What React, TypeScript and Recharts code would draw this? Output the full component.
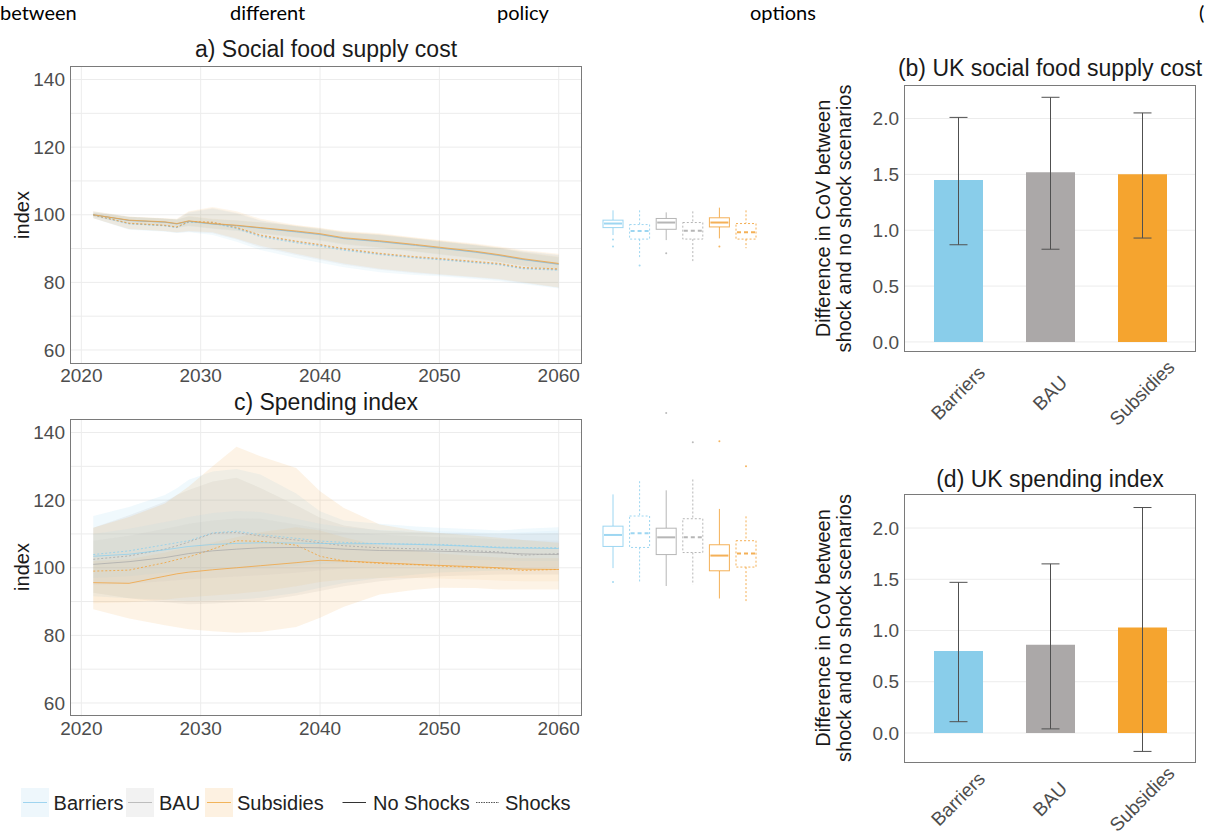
import React from 'react'
import {
  ComposedChart,
  BarChart,
  Area,
  Line,
  Bar,
  Cell,
  ErrorBar,
  XAxis,
  YAxis,
  CartesianGrid,
} from 'recharts'

// sampled years for the two time-series panels
const years = [2021, 2024, 2027, 2028, 2029, 2031, 2033, 2035, 2038, 2040, 2042, 2045, 2048, 2050, 2053, 2055, 2057, 2060]
const yearTicks = [2020, 2030, 2040, 2050, 2060]
const indexTicks = [60, 80, 100, 120, 140]
const indexGrid = [60, 70, 80, 90, 100, 110, 120, 130, 140]

// a) social food supply cost - median lines
const supplyBarriers = [100.0, 98.3, 97.8, 97.3, 98.0, 97.2, 96.7, 96.0, 94.9, 94.1, 92.9, 92.0, 90.9, 90.1, 88.9, 87.9, 86.7, 85.3]
const supplyBau = [100.0, 98.3, 97.8, 97.3, 98.1, 97.3, 96.8, 96.1, 95.0, 94.2, 93.0, 92.1, 91.0, 90.2, 89.0, 88.0, 86.8, 85.4]
const supplySubsidies = [100.0, 98.4, 97.9, 97.4, 98.2, 97.4, 96.9, 96.2, 95.2, 94.4, 93.2, 92.3, 91.2, 90.4, 89.2, 88.2, 87.0, 85.6]
const supplyBarriersShock = [99.9, 97.3, 96.7, 96.2, 97.8, 97.5, 95.9, 93.5, 91.7, 90.7, 89.5, 88.2, 87.2, 86.7, 85.8, 85.2, 84.0, 83.6]
const supplyBauShock = [99.9, 97.4, 96.8, 96.3, 97.9, 97.7, 96.1, 93.8, 92.0, 91.0, 89.8, 88.4, 87.4, 86.9, 86.0, 85.4, 84.2, 83.8]
const supplySubsidiesShock = [100.0, 97.5, 96.9, 96.4, 98.0, 97.8, 96.3, 94.0, 92.2, 91.2, 90.0, 88.6, 87.6, 87.1, 86.2, 85.6, 84.4, 84.0]
// a) ribbons
const supplyBarriersLow = [99.4, 97.2, 96.6, 96.1, 96.6, 95.8, 95.2, 94.4, 93.2, 92.3, 91.1, 90.2, 89.0, 88.2, 87.0, 86.0, 84.8, 83.4]
const supplyBarriersHigh = [100.6, 99.3, 98.8, 98.5, 99.4, 98.6, 98.2, 97.6, 96.6, 95.9, 94.7, 93.9, 92.9, 92.1, 90.9, 90.0, 88.7, 87.3]
const supplyBauLow = [99.4, 97.3, 96.7, 96.2, 96.7, 95.9, 95.3, 94.5, 93.3, 92.4, 91.2, 90.3, 89.1, 88.3, 87.1, 86.1, 84.9, 83.5]
const supplyBauHigh = [100.6, 99.3, 98.9, 98.5, 99.5, 98.7, 98.3, 97.7, 96.7, 96.0, 94.8, 94.0, 93.0, 92.2, 91.0, 90.1, 88.8, 87.4]
const supplySubsidiesLow = [99.4, 97.4, 96.9, 96.2, 96.8, 96.0, 95.4, 94.6, 93.5, 92.6, 91.4, 90.4, 89.2, 88.4, 87.2, 86.1, 85.0, 83.6]
const supplySubsidiesHigh = [100.6, 99.4, 98.9, 98.6, 99.6, 98.8, 98.4, 97.8, 96.9, 96.2, 95.0, 94.2, 93.2, 92.4, 91.2, 90.3, 89.0, 87.6]
const supplyBarriersShockLow = [99.0, 95.6, 95.0, 94.6, 94.8, 94.0, 92.0, 89.6, 87.2, 85.8, 84.5, 83.0, 82.2, 81.8, 81.0, 80.4, 79.5, 78.2]
const supplyBarriersShockHigh = [100.9, 99.3, 98.8, 98.6, 100.6, 101.8, 100.4, 98.2, 96.5, 95.5, 94.7, 94.0, 92.8, 92.0, 91.0, 90.1, 89.1, 88.0]
const supplyBauShockLow = [99.0, 95.7, 95.1, 94.7, 95.0, 94.5, 92.7, 90.4, 88.1, 86.6, 85.2, 83.7, 82.7, 82.2, 81.4, 80.8, 79.8, 78.4]
const supplyBauShockHigh = [101.0, 99.4, 98.9, 98.7, 100.8, 102.0, 100.6, 98.4, 96.7, 95.7, 94.9, 94.2, 93.0, 92.2, 91.2, 90.3, 89.3, 88.2]
const supplySubsidiesShockLow = [99.0, 95.8, 95.2, 94.8, 95.2, 94.8, 93.0, 90.8, 88.5, 87.0, 85.6, 84.0, 83.0, 82.4, 81.6, 81.0, 80.0, 78.5]
const supplySubsidiesShockHigh = [101.0, 99.5, 99.0, 98.8, 101.0, 102.3, 101.0, 98.8, 97.0, 96.0, 95.2, 94.5, 93.3, 92.5, 91.5, 90.6, 89.6, 88.5]

// c) spending index - median lines
const spendBarriers = [103.4, 104.0, 105.3, 105.8, 106.3, 106.9, 107.2, 107.4, 107.3, 107.2, 107.1, 107.1, 106.9, 106.7, 106.3, 105.9, 105.8, 105.7]
const spendBau = [101.0, 101.8, 103.0, 103.6, 104.2, 105.0, 105.5, 105.9, 106.0, 105.9, 105.5, 105.1, 105.0, 104.9, 104.6, 104.4, 104.1, 103.9]
const spendSubsidies = [95.6, 95.4, 97.5, 98.2, 98.7, 99.4, 100.0, 100.6, 101.5, 102.2, 102.0, 101.5, 101.0, 100.7, 100.3, 100.0, 99.6, 99.5]
const spendBarriersShock = [103.9, 105.0, 106.8, 107.4, 108.0, 110.3, 110.8, 109.8, 108.7, 107.9, 107.5, 107.1, 107.0, 106.9, 106.4, 106.1, 106.0, 105.9]
const spendBauShock = [102.5, 103.5, 105.5, 106.5, 107.6, 110.2, 110.4, 109.4, 108.2, 107.4, 106.5, 105.9, 105.6, 105.4, 105.0, 104.7, 103.7, 104.2]
const spendSubsidiesShock = [99.0, 99.3, 101.5, 102.4, 103.2, 105.5, 108.0, 107.8, 106.7, 103.4, 102.0, 101.3, 100.9, 100.5, 100.1, 99.8, 99.2, 99.5]
// c) ribbons
const spendBarriersLow = [97.0, 97.5, 98.5, 98.8, 99.0, 99.5, 99.8, 100.0, 100.5, 101.0, 101.5, 102.0, 102.2, 102.3, 102.3, 102.2, 102.0, 102.0]
const spendBarriersHigh = [110.0, 111.5, 113.5, 114.2, 115.0, 116.2, 116.8, 116.5, 114.5, 113.0, 112.0, 111.2, 111.0, 110.8, 110.5, 110.2, 110.5, 111.0]
const spendBauLow = [95.0, 95.3, 96.0, 96.3, 96.6, 97.0, 97.4, 97.8, 98.5, 99.2, 99.8, 100.3, 100.5, 100.6, 100.5, 100.4, 100.3, 100.2]
const spendBauHigh = [108.0, 109.5, 111.5, 112.2, 113.0, 114.0, 114.6, 114.5, 112.8, 111.5, 110.5, 109.8, 109.3, 109.0, 108.7, 108.4, 108.2, 108.0]
const spendSubsidiesLow = [89.5, 89.8, 90.5, 91.0, 91.3, 91.8, 92.3, 93.0, 94.5, 95.8, 96.5, 97.0, 97.0, 96.8, 96.5, 96.2, 96.0, 96.0]
const spendSubsidiesHigh = [102.0, 102.5, 104.5, 105.3, 106.0, 107.5, 109.0, 110.5, 112.0, 111.0, 109.0, 106.5, 105.0, 104.2, 103.5, 103.0, 102.8, 102.8]
const spendBarriersShockLow = [91.6, 91.0, 90.5, 90.3, 90.2, 90.3, 90.6, 91.1, 92.5, 94.1, 95.5, 97.0, 98.0, 98.6, 99.0, 99.2, 99.3, 99.5]
const spendBarriersShockHigh = [115.3, 118.0, 121.5, 123.5, 126.0, 128.5, 129.2, 127.6, 122.0, 116.7, 114.0, 113.0, 112.2, 111.8, 111.4, 111.0, 111.5, 112.0]
const spendBauShockLow = [92.6, 91.0, 89.8, 89.5, 89.2, 89.4, 89.8, 90.2, 91.8, 93.1, 94.5, 96.0, 97.0, 97.5, 97.8, 98.0, 98.0, 98.0]
const spendBauShockHigh = [111.8, 115.5, 119.5, 121.5, 123.0, 125.5, 126.6, 123.6, 118.5, 114.8, 112.5, 111.0, 110.5, 110.2, 110.0, 109.8, 110.0, 110.2]
const spendSubsidiesShockLow = [87.7, 85.0, 83.0, 82.4, 81.8, 81.2, 80.8, 81.0, 82.5, 85.2, 88.5, 92.1, 93.5, 94.1, 94.0, 93.6, 93.6, 93.6]
const spendSubsidiesShockHigh = [111.8, 115.0, 119.0, 121.5, 124.0, 130.0, 135.8, 133.0, 129.5, 122.6, 117.7, 112.8, 111.0, 110.3, 109.5, 108.9, 108.2, 107.4]

// boxplots next to panels a and c (order: Barriers, Barriers shocks, BAU, BAU shocks, Subsidies, Subsidies shocks)
const boxNames = ['Barriers', 'Barriers shocks', 'BAU', 'BAU shocks', 'Subsidies', 'Subsidies shocks']
const supplyBoxLo = [94.0, 87.1, 92.5, 85.9, 93.0, 90.1]
const supplyBoxQ1 = [96.2, 92.8, 95.7, 92.8, 96.4, 92.8]
const supplyBoxMed = [97.4, 95.2, 97.7, 95.3, 97.7, 94.8]
const supplyBoxQ3 = [98.4, 97.1, 98.9, 97.7, 99.1, 97.4]
const supplyBoxHi = [101.3, 101.3, 100.7, 101.0, 102.1, 101.3]
const supplyBoxOut = [[92.7, 90.6], [85.0], [88.6], [], [90.6], []]
const spendBoxLo = [99.9, 95.8, 94.6, 95.0, 90.9, 89.9]
const spendBoxQ1 = [106.3, 106.0, 103.9, 104.5, 99.1, 100.2]
const spendBoxMed = [109.7, 110.2, 109.0, 109.0, 103.6, 104.2]
const spendBoxQ3 = [112.3, 115.3, 111.7, 114.5, 106.8, 108.0]
const spendBoxHi = [121.7, 125.6, 122.9, 126.1, 117.4, 115.2]
const spendBoxOut = [[95.8], [], [145.8], [137.1], [137.4], [130.0]]

// b) and d) difference in CoV
const covNames = ['Barriers', 'BAU', 'Subsidies']
const supplyCov = [1.45, 1.52, 1.5]
const supplyCovLow = [0.87, 0.83, 0.93]
const supplyCovHigh = [2.01, 2.19, 2.05]
const spendCov = [0.8, 0.86, 1.03]
const spendCovLow = [0.11, 0.04, -0.18]
const spendCovHigh = [1.47, 1.65, 2.2]
const covTicks = [0, 0.5, 1, 1.5, 2]

const COLORS: Record<string, string> = { barriers: '#8ccfee', bau: '#a9a9a9', subsidies: '#f2a23a' }
const BAR_COLORS = ['#89cdea', '#aba8a8', '#f5a42f']
const policies = ['barriers', 'bau', 'subsidies']
const TICK = { fill: '#4d4d4d', fontSize: 19 }

const supplyRows = years.map((year, i) => ({
  year,
  barriers: supplyBarriers[i],
  bau: supplyBau[i],
  subsidies: supplySubsidies[i],
  barriersShock: supplyBarriersShock[i],
  bauShock: supplyBauShock[i],
  subsidiesShock: supplySubsidiesShock[i],
  barriersBand: [supplyBarriersLow[i], supplyBarriersHigh[i]],
  bauBand: [supplyBauLow[i], supplyBauHigh[i]],
  subsidiesBand: [supplySubsidiesLow[i], supplySubsidiesHigh[i]],
  barriersShockBand: [supplyBarriersShockLow[i], supplyBarriersShockHigh[i]],
  bauShockBand: [supplyBauShockLow[i], supplyBauShockHigh[i]],
  subsidiesShockBand: [supplySubsidiesShockLow[i], supplySubsidiesShockHigh[i]],
}))

const spendRows = years.map((year, i) => ({
  year,
  barriers: spendBarriers[i],
  bau: spendBau[i],
  subsidies: spendSubsidies[i],
  barriersShock: spendBarriersShock[i],
  bauShock: spendBauShock[i],
  subsidiesShock: spendSubsidiesShock[i],
  barriersBand: [spendBarriersLow[i], spendBarriersHigh[i]],
  bauBand: [spendBauLow[i], spendBauHigh[i]],
  subsidiesBand: [spendSubsidiesLow[i], spendSubsidiesHigh[i]],
  barriersShockBand: [spendBarriersShockLow[i], spendBarriersShockHigh[i]],
  bauShockBand: [spendBauShockLow[i], spendBauShockHigh[i]],
  subsidiesShockBand: [spendSubsidiesShockLow[i], spendSubsidiesShockHigh[i]],
}))

const makeBoxRows = (lo: number[], q1: number[], med: number[], q3: number[], hi: number[], out: number[][]) =>
  boxNames.map((name, i) => ({
    name,
    policy: policies[Math.floor(i / 2)],
    shock: i % 2 === 1,
    box: [q1[i], q3[i]],
    lo: lo[i],
    q1: q1[i],
    med: med[i],
    q3: q3[i],
    hi: hi[i],
    out: out[i],
  }))

const supplyBoxRows = makeBoxRows(supplyBoxLo, supplyBoxQ1, supplyBoxMed, supplyBoxQ3, supplyBoxHi, supplyBoxOut)
const spendBoxRows = makeBoxRows(spendBoxLo, spendBoxQ1, spendBoxMed, spendBoxQ3, spendBoxHi, spendBoxOut)

const makeCovRows = (vals: number[], low: number[], high: number[]) =>
  covNames.map((name, i) => ({ name, value: vals[i], err: [vals[i] - low[i], high[i] - vals[i]] }))

const supplyCovRows = makeCovRows(supplyCov, supplyCovLow, supplyCovHigh)
const spendCovRows = makeCovRows(spendCov, spendCovLow, spendCovHigh)

function TrendPanel({ rows, top, bandOpacity }: { rows: any[]; top: number; bandOpacity: number }) {
  return (
    <div style={{ position: 'absolute', left: 0, top, width: 600, height: 400 }}>
      <ComposedChart width={600} height={400} data={rows} margin={{ top: 66, right: 18, bottom: 0, left: 0 }}>
        <CartesianGrid stroke="#ececec" horizontalValues={indexGrid} verticalValues={yearTicks} />
        <XAxis
          type="number"
          dataKey="year"
          domain={[2019.05, 2061.95]}
          ticks={yearTicks}
          height={36.5}
          tickSize={0}
          tickMargin={5}
          axisLine={false}
          tickLine={false}
          tick={TICK}
        />
        <YAxis
          type="number"
          domain={[56, 144]}
          ticks={indexTicks}
          width={70}
          tickSize={0}
          tickMargin={5}
          axisLine={false}
          tickLine={false}
          tick={TICK}
        />
        {policies.map((p) => (
          <Area
            key={p + 'sb'}
            type="linear"
            dataKey={p + 'ShockBand'}
            stroke="none"
            fill={COLORS[p]}
            fillOpacity={bandOpacity}
            isAnimationActive={false}
          />
        ))}
        {policies.map((p) => (
          <Area
            key={p + 'b'}
            type="linear"
            dataKey={p + 'Band'}
            stroke="none"
            fill={COLORS[p]}
            fillOpacity={bandOpacity * 0.6}
            isAnimationActive={false}
          />
        ))}
        {policies.map((p) => (
          <Line
            key={p + 's'}
            type="linear"
            dataKey={p + 'Shock'}
            stroke={COLORS[p]}
            strokeOpacity={0.8}
            strokeWidth={1}
            strokeDasharray="2 2"
            dot={false}
            isAnimationActive={false}
          />
        ))}
        {policies.map((p) => (
          <Line
            key={p}
            type="linear"
            dataKey={p}
            stroke={COLORS[p]}
            strokeOpacity={0.75}
            strokeWidth={1}
            dot={false}
            isAnimationActive={false}
          />
        ))}
      </ComposedChart>
      <div
        style={{
          position: 'absolute',
          left: 70,
          top: 66,
          width: 512,
          height: 297.5,
          border: '1px solid #7a7a7a',
          boxSizing: 'border-box',
        }}
      />
    </div>
  )
}

function BoxShape(props: any) {
  const { x, y, width, height, payload } = props
  const top = Math.min(y, y + height)
  const bottom = Math.max(y, y + height)
  const toPx = (v: number) => bottom - ((v - payload.q1) / (payload.q3 - payload.q1)) * (bottom - top)
  const cx = x + width / 2
  const color = COLORS[payload.policy]
  const dash = payload.shock ? '2 2' : undefined
  return (
    <g strokeOpacity={0.85}>
      <line x1={cx} x2={cx} y1={toPx(payload.hi)} y2={top} stroke={color} strokeDasharray={dash} />
      <line x1={cx} x2={cx} y1={bottom} y2={toPx(payload.lo)} stroke={color} strokeDasharray={dash} />
      <rect x={x} y={top} width={width} height={bottom - top} fill="#fff" stroke={color} strokeDasharray={dash} />
      <line
        x1={x + 1}
        x2={x + width - 1}
        y1={toPx(payload.med)}
        y2={toPx(payload.med)}
        stroke={color}
        strokeWidth={2}
        strokeDasharray={payload.shock ? '4 3' : undefined}
      />
      {payload.out.map((o: number, i: number) => (
        <circle key={i} cx={cx} cy={toPx(o)} r={1} fill={color} fillOpacity={0.8} />
      ))}
    </g>
  )
}

function BoxPanel({ rows, top }: { rows: any[]; top: number }) {
  return (
    <div style={{ position: 'absolute', left: 590, top, width: 180, height: 400 }}>
      <ComposedChart width={180} height={400} data={rows} margin={{ top: 66, right: 10.4, bottom: 36.5, left: 10 }}>
        <XAxis dataKey="name" hide />
        <YAxis type="number" domain={[56, 144]} hide />
        <Bar dataKey="box" barSize={20} shape={<BoxShape />} isAnimationActive={false} />
      </ComposedChart>
    </div>
  )
}

function SlantTick(props: any) {
  const { x, y, payload, drop } = props
  const ty = y + drop
  return (
    <text
      x={x}
      y={ty}
      transform={`rotate(-45 ${x} ${ty})`}
      textAnchor="middle"
      dominantBaseline="central"
      fill="#4d4d4d"
      fontSize={19}
    >
      {payload.value}
    </text>
  )
}

function CovPanel({
  rows,
  top,
  height,
  marginTop,
  axisHeight,
  domain,
  labelDrop,
}: {
  rows: any[]
  top: number
  height: number
  marginTop: number
  axisHeight: number
  domain: [number, number]
  labelDrop: number
}) {
  const plotHeight = height - marginTop - axisHeight
  return (
    <div style={{ position: 'absolute', left: 780, top, width: 436, height }}>
      <BarChart width={436} height={height} data={rows} margin={{ top: marginTop, right: 20, bottom: 0, left: 80 }}>
        <CartesianGrid stroke="#ececec" vertical={false} horizontalValues={covTicks} />
        <XAxis
          dataKey="name"
          height={axisHeight}
          padding={{ left: 8, right: 8 }}
          tickSize={0}
          tickMargin={0}
          axisLine={false}
          tickLine={false}
          tick={<SlantTick drop={labelDrop} />}
        />
        <YAxis
          type="number"
          domain={domain}
          ticks={covTicks}
          width={44}
          tickSize={0}
          tickMargin={5}
          axisLine={false}
          tickLine={false}
          tick={TICK}
          tickFormatter={(v: number) => v.toFixed(1)}
        />
        <Bar dataKey="value" barSize={49} isAnimationActive={false}>
          {rows.map((r, i) => (
            <Cell key={r.name} fill={BAR_COLORS[i]} />
          ))}
          <ErrorBar dataKey="err" width={9} stroke="#505050" strokeWidth={1} />
        </Bar>
      </BarChart>
      <div
        style={{
          position: 'absolute',
          left: 124,
          top: marginTop,
          width: 292,
          height: plotHeight,
          border: '1px solid #7a7a7a',
          boxSizing: 'border-box',
        }}
      />
    </div>
  )
}

function Overlay() {
  const dark = '#1a1a1a'
  return (
    <svg
      width={1216}
      height={837}
      style={{ position: 'absolute', left: 0, top: 0, pointerEvents: 'none' }}
    >
      <g fontFamily="Lato, 'Open Sans', sans-serif" fontSize={20} fill="#000">
        <text x={0} y={20}>between</text>
        <text x={230} y={20}>different</text>
        <text x={497} y={20}>policy</text>
        <text x={750} y={20}>options</text>
        <text x={1199} y={20}>(</text>
      </g>
      <g fontSize={23} fill={dark} textAnchor="middle">
        <text x={326} y={56.5}>a) Social food supply cost</text>
        <text x={326} y={410}>c) Spending index</text>
        <text x={1050} y={75.5}>(b) UK social food supply cost</text>
        <text x={1050} y={486.5}>(d) UK spending index</text>
      </g>
      <g fontSize={20} fill={dark} textAnchor="middle">
        <text x={28.7} y={215} transform="rotate(-90 28.7 215)">index</text>
        <text x={28.7} y={567} transform="rotate(-90 28.7 567)">index</text>
        <text x={830} y={218.5} transform="rotate(-90 830 218.5)">Difference in CoV between</text>
        <text x={851} y={218.5} transform="rotate(-90 851 218.5)">shock and no shock scenarios</text>
        <text x={830} y={628} transform="rotate(-90 830 628)">Difference in CoV between</text>
        <text x={851} y={628} transform="rotate(-90 851 628)">shock and no shock scenarios</text>
      </g>
      {/* legend */}
      <rect x={21} y={788} width={28} height={29} fill="#eef7fc" />
      <line x1={23} x2={47} y1={802.5} y2={802.5} stroke="#9fd4ef" />
      <rect x={126} y={788} width={28} height={29} fill="#f2f2f2" />
      <line x1={128} x2={152} y1={802.5} y2={802.5} stroke="#bdbdbd" />
      <rect x={205} y={788} width={28} height={29} fill="#fdf1e1" />
      <line x1={207} x2={231} y1={802.5} y2={802.5} stroke="#f2b45a" />
      <line x1={342.5} x2={366} y1={802.5} y2={802.5} stroke="#333" />
      <line x1={476} x2={499} y1={802.5} y2={802.5} stroke="#555" strokeDasharray="1.5 1" />
      <g fontSize={20} fill="#222">
        <text x={53.6} y={809.7}>Barriers</text>
        <text x={159} y={809.7}>BAU</text>
        <text x={237} y={809.7}>Subsidies</text>
        <text x={373} y={809.7}>No Shocks</text>
        <text x={505} y={809.7}>Shocks</text>
      </g>
    </svg>
  )
}

export default function App() {
  return (
    <div
      style={{
        position: 'absolute',
        left: 0,
        top: 0,
        width: 1216,
        height: 837,
        overflow: 'hidden',
        background: '#fff',
        fontFamily: '"Liberation Sans", Arial, sans-serif',
      }}
    >
      <TrendPanel rows={supplyRows} top={0} bandOpacity={0.1} />
      <TrendPanel rows={spendRows} top={352.5} bandOpacity={0.13} />
      <BoxPanel rows={supplyBoxRows} top={0} />
      <BoxPanel rows={spendBoxRows} top={352.5} />
      <CovPanel
        rows={supplyCovRows}
        top={0}
        height={440}
        marginTop={85}
        axisHeight={88}
        domain={[-0.09, 2.3]}
        labelDrop={41}
      />
      <CovPanel
        rows={spendCovRows}
        top={410}
        height={427}
        marginTop={84}
        axisHeight={74}
        domain={[-0.293, 2.332]}
        labelDrop={36}
      />
      <Overlay />
    </div>
  )
}
